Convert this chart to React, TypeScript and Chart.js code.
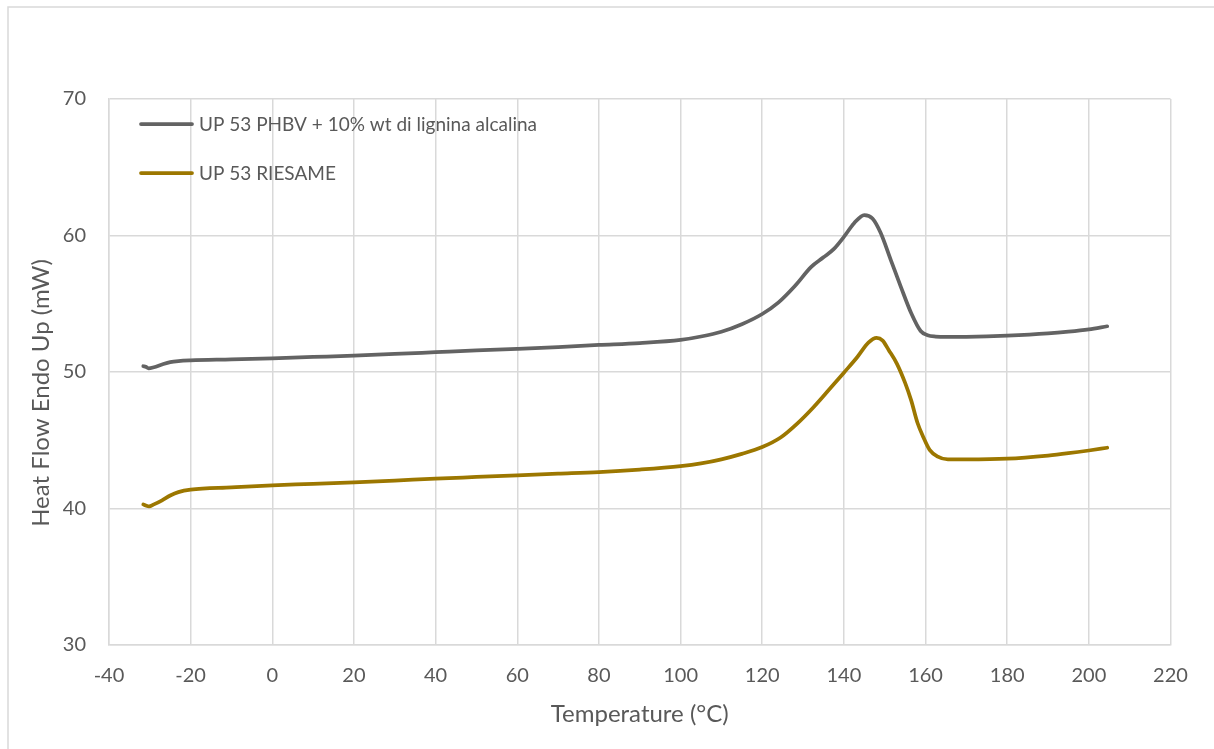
import React, { useEffect, useRef } from "react";
import { Chart, registerables } from "chart.js";

Chart.register(...registerables);

// DSC heating traces: temperature (°C) and heat flow (mW)
const phbvTemps = [
  -31.6, -31.0, -30.3, -29, -27, -25, -23, -20, -10, 0, 10, 20, 30, 40, 50, 60, 70, 80, 90,
  100, 105, 110, 115, 120, 124, 128, 132, 135, 137.5, 140, 142.5, 145, 147, 149, 151.5, 154,
  156.5, 158.8, 160.5, 162.5, 165, 170, 180, 190, 195, 200, 204.5,
];
const phbvFlow = [
  50.42, 50.38, 50.27, 50.35, 50.55, 50.72, 50.8, 50.85, 50.92, 51.0, 51.1, 51.2, 51.32, 51.45,
  51.58, 51.7, 51.83, 51.98, 52.12, 52.35, 52.6, 52.95, 53.5, 54.25, 55.1, 56.3, 57.7, 58.4,
  59.0, 59.9, 60.9, 61.5, 61.25, 60.2, 58.2, 56.2, 54.3, 53.0, 52.7, 52.6, 52.57, 52.58, 52.67,
  52.83, 52.96, 53.13, 53.35,
];

const riesameTemps = [
  -31.6, -31.0, -30.2, -29, -27, -25, -23, -20, -10, 0, 10, 20, 30, 40, 50, 60, 70, 80, 90,
  100, 105, 110, 115, 120, 124.5, 128.5, 132.5, 136.5, 140, 143.3, 146, 148, 149.5, 151, 153,
  155, 156.5, 158, 159.5, 161, 163, 165.5, 170, 180, 190, 195, 200, 204.5,
];
const riesameFlow = [
  40.3, 40.22, 40.15, 40.3, 40.6, 40.95, 41.2, 41.38, 41.55, 41.7, 41.8, 41.92, 42.05, 42.19,
  42.31, 42.43, 42.55, 42.67, 42.85, 43.1, 43.3, 43.6, 44.0, 44.5, 45.2, 46.2, 47.4, 48.75, 49.95,
  51.1, 52.15, 52.5, 52.3, 51.6, 50.6, 49.2, 47.9, 46.3, 45.2, 44.3, 43.8, 43.6, 43.6, 43.65,
  43.88, 44.05, 44.25, 44.45,
];

const seriesLabels = ["UP 53 PHBV + 10% wt di lignina alcalina", "UP 53 RIESAME"];
const seriesColors = ["#636363", "#9c7700"];

const xTitle = "Temperature (°C)";
const yTitle = "Heat Flow Endo Up (mW)";

const FONT = "Lato, 'Open Sans', sans-serif";
const TEXT = "#595959";
const GRID = "#d9d9d9";

const toPoints = (xs: number[], ys: number[]) => xs.map((x, i) => ({ x, y: ys[i] }));

// Outer frame, rotated y title and the in-plot legend
const decorations = {
  id: "decorations",
  beforeDraw(chart: any) {
    const ctx = chart.ctx;
    ctx.save();
    ctx.fillStyle = "#ffffff";
    ctx.fillRect(0, 0, chart.width, chart.height);
    ctx.strokeStyle = GRID;
    ctx.lineWidth = 1.5;
    ctx.strokeRect(8, 7, chart.width + 10, chart.height + 10);
    ctx.restore();
  },
  afterDraw(chart: any) {
    const ctx = chart.ctx;
    ctx.save();
    // y axis title
    ctx.translate(41, 393);
    ctx.rotate(-Math.PI / 2);
    ctx.font = `24px ${FONT}`;
    ctx.fillStyle = TEXT;
    ctx.textAlign = "center";
    ctx.textBaseline = "middle";
    ctx.fillText(yTitle, 0, 0);
    ctx.restore();

    // legend
    ctx.save();
    const rows = [124, 173];
    ctx.font = `19px ${FONT}`;
    ctx.textBaseline = "middle";
    ctx.textAlign = "left";
    seriesLabels.forEach((label, i) => {
      const y = rows[i];
      ctx.strokeStyle = seriesColors[i];
      ctx.lineWidth = 3.75;
      ctx.lineCap = "round";
      ctx.beginPath();
      ctx.moveTo(141, y);
      ctx.lineTo(192, y);
      ctx.stroke();
      ctx.fillStyle = TEXT;
      ctx.fillText(label, 199, y + 1);
    });
    ctx.restore();
  },
};

export default function App() {
  const canvasRef = useRef<HTMLCanvasElement | null>(null);

  useEffect(() => {
    const canvas = canvasRef.current;
    if (!canvas) return;
    const chart = new Chart(canvas, {
      type: "scatter",
      data: {
        datasets: [
          {
            label: seriesLabels[0],
            data: toPoints(phbvTemps, phbvFlow),
            showLine: true,
            borderColor: seriesColors[0],
            backgroundColor: seriesColors[0],
            borderWidth: 3.75,
            pointRadius: 0,
            cubicInterpolationMode: "monotone",
            borderCapStyle: "round",
            borderJoinStyle: "round",
          },
          {
            label: seriesLabels[1],
            data: toPoints(riesameTemps, riesameFlow),
            showLine: true,
            borderColor: seriesColors[1],
            backgroundColor: seriesColors[1],
            borderWidth: 3.75,
            pointRadius: 0,
            cubicInterpolationMode: "monotone",
            borderCapStyle: "round",
            borderJoinStyle: "round",
          },
        ],
      },
      options: {
        responsive: false,
        animation: false,
        layout: { padding: { top: 99, right: 43.5, left: 0, bottom: 0 } },
        plugins: {
          legend: { display: false },
          tooltip: { enabled: false },
        },
        scales: {
          x: {
            type: "linear",
            min: -40,
            max: 220,
            ticks: {
              stepSize: 20,
              color: TEXT,
              font: { family: FONT, size: 20 },
              padding: 19,
              maxRotation: 0,
            },
            grid: { color: GRID, lineWidth: 1.5, drawTicks: false },
            border: { color: GRID, width: 1.5 },
            title: {
              display: true,
              text: xTitle,
              color: TEXT,
              font: { family: FONT, size: 24 },
              padding: { top: 0, bottom: 20 },
            },
            afterFit: (scale: any) => {
              scale.height = 104;
            },
          },
          y: {
            type: "linear",
            min: 30,
            max: 70,
            ticks: {
              stepSize: 10,
              color: TEXT,
              font: { family: FONT, size: 20 },
              padding: 23,
            },
            grid: { color: GRID, lineWidth: 1.5, drawTicks: false },
            border: { color: GRID, width: 1.5 },
            afterFit: (scale: any) => {
              scale.width = 109;
            },
          },
        },
      },
      plugins: [decorations],
    });
    return () => chart.destroy();
  }, []);

  return (
    <div style={{ position: "absolute", left: 0, top: 0, width: 1214, height: 749 }}>
      <canvas ref={canvasRef} width={1214} height={749} />
    </div>
  );
}
